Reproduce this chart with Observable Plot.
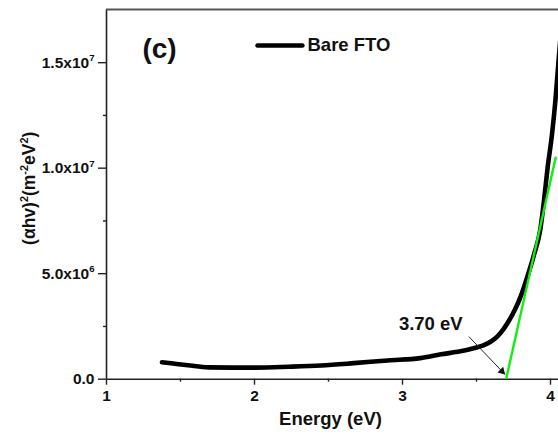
<!DOCTYPE html>
<html>
<head>
<meta charset="utf-8">
<script src="https://cdn.jsdelivr.net/npm/d3@7"></script>
<script src="https://cdn.jsdelivr.net/npm/@observablehq/plot@0.6"></script>
<style>
  html, body { margin: 0; padding: 0; background: #fff; overflow: hidden; }
  #chart svg { display: block; background: #fff; }
</style>
</head>
<body>
<div id="chart"></div>
<script>
// Tauc plot of bare FTO: (αhν)² versus photon energy
const energy = [1.375, 1.45, 1.55, 1.69, 1.85, 2.01, 2.23, 2.45, 2.67, 2.90, 3.12, 3.26, 3.39, 3.50, 3.55, 3.60, 3.64, 3.68, 3.72, 3.76, 3.80, 3.85, 3.89, 3.93, 3.955, 3.98, 4.01, 4.033, 4.05, 4.065];
const ahv2 = [8.0e5, 7.4e5, 6.6e5, 5.6e5, 5.5e5, 5.5e5, 5.9e5, 6.5e5, 7.6e5, 8.9e5, 1.0e6, 1.18e6, 1.32e6, 1.5e6, 1.62e6, 1.8e6, 2.02e6, 2.35e6, 2.78e6, 3.3e6, 3.95e6, 5.0e6, 5.94e6, 7.05e6, 8.4e6, 1.0e7, 1.16e7, 1.32e7, 1.47e7, 1.6e7];

// Linear fit of the absorption edge, extrapolated to zero
const fitEnergy = [3.70, 4.035];
const fitAhv2 = [0, 1.05e7];
const bandGapLabel = "3.70 eV";
const seriesName = "Bare FTO";
const panelLabel = "(c)";

const xTicks = [1, 2, 3, 4];
const xMinorTicks = [1.5, 2.5, 3.5];
const yTicks = [0, 5e6, 1e7, 1.5e7];
const yTickLabels = ["0.0", "5.0x10^{6}", "1.0x10^{7}", "1.5x10^{7}"];
const yMinorTicks = [2.5e6, 7.5e6, 1.25e7];

const curve = energy.map((e, i) => ({e, v: ahv2[i]}));
const fit = fitEnergy.map((e, i) => ({e, v: fitAhv2[i]}));

const xDomain = [1, 4.054];
const yDomain = [0, 1.752e7];
const font = "'Liberation Sans', Arial, sans-serif";

// annotation anchors (data units)
const arrowFrom = {e: 3.448, v: 2.02e6};
const arrowTo = {e: 3.694, v: 2.2e5};
const gapText = {e: 3.191, v: 2.62e6};
const legendSwatch = {e1: 2.02, e2: 2.324, v: 1.5815e7};
const legendText = {e: 2.358, v: 1.5815e7};
const panelText = {e: 1.358, v: 1.565e7};

const plot = Plot.plot({
  width: 558,
  height: 438,
  marginLeft: 106,
  marginRight: 0,
  marginTop: 9,
  marginBottom: 59.3,
  style: {fontFamily: font, fontWeight: "bold", color: "#111", background: "#fff"},
  x: {domain: xDomain},
  y: {domain: yDomain},
  marks: [
    // frame: left/bottom axis lines and top border
    Plot.ruleX([xDomain[0]], {stroke: "#222", strokeWidth: 1.6}),
    Plot.ruleY([0], {stroke: "#222", strokeWidth: 1.6}),
    Plot.ruleY([yDomain[1]], {stroke: "#555", strokeWidth: 2.2}),
    Plot.axisX({ticks: xTicks, tickSize: 6, tickPadding: 5, tickFormat: d => String(d), fontSize: 15.5, stroke: "#222", strokeWidth: 1.4, label: null}),
    Plot.axisX({ticks: xMinorTicks, tickSize: 3, tickFormat: () => "", stroke: "#222", strokeWidth: 1.4, label: null}),
    Plot.axisY({ticks: yTicks, tickSize: 8, tickPadding: 4, tickFormat: d => yTickLabels[yTicks.indexOf(d)], fontSize: 15.5, stroke: "#222", strokeWidth: 1.4, label: null}),
    Plot.axisY({ticks: yMinorTicks, tickSize: 3, tickFormat: () => "", stroke: "#222", strokeWidth: 1.4, label: null}),
    // axis titles
    Plot.text(["Energy (eV)"], {frameAnchor: "bottom", dy: 40, dx: -2, fontSize: 18.5, lineAnchor: "middle", fill: "#111"}),
    Plot.text(["(αhv)^{2}(m^{-2}eV^{2})"], {frameAnchor: "left", rotate: -90, dx: -77, dy: -6, fontSize: 17.5, lineAnchor: "middle", textAnchor: "middle", fill: "#111"}),
    // measured curve
    Plot.line(curve, {x: "e", y: "v", stroke: "#000", strokeWidth: 4.6, curve: "monotone-x", clip: true, strokeLinecap: "round"}),
    // linear extrapolation
    Plot.line(fit, {x: "e", y: "v", stroke: "#11ee11", strokeWidth: 2.4, clip: true}),
    // band-gap annotation
    Plot.link([0], {x1: () => arrowFrom.e, y1: () => arrowFrom.v, x2: () => arrowTo.e, y2: () => arrowTo.v, stroke: "#222", strokeWidth: 1}),
    Plot.dot([arrowTo], {x: "e", y: "v", symbol: "triangle", r: 3, rotate: 136, fill: "#111", stroke: "none", dx: -3.3, dy: -3.3}),
    Plot.text([gapText], {x: "e", y: "v", text: () => bandGapLabel, fontSize: 18.5, lineAnchor: "middle", fill: "#111"}),
    // legend and panel label
    Plot.link([0], {x1: () => legendSwatch.e1, x2: () => legendSwatch.e2, y1: () => legendSwatch.v, y2: () => legendSwatch.v, stroke: "#000", strokeWidth: 4.4, strokeLinecap: "round"}),
    Plot.text([legendText], {x: "e", y: "v", text: () => seriesName, textAnchor: "start", fontSize: 18.5, lineAnchor: "middle", fill: "#111"}),
    Plot.text([panelText], {x: "e", y: "v", text: () => panelLabel, fontSize: 28, lineAnchor: "middle", fill: "#111"})
  ]
});

document.getElementById("chart").append(plot);

// turn ^{...} into raised, smaller tspans
d3.select(plot).selectAll("text").each(function () {
  const el = this;
  const s = el.textContent;
  if (!s.includes("^{")) return;
  const base = parseFloat(getComputedStyle(el).fontSize) || 14;
  const parts = s.split(/\^\{([^}]*)\}/);
  el.textContent = "";
  let raised = false;
  parts.forEach((p, i) => {
    if (p === "") return;
    const t = d3.select(el).append("tspan").text(p);
    if (i % 2 === 1) {
      t.attr("font-size", base * 0.62).attr("dy", raised ? 0 : -base * 0.42);
      raised = true;
    } else if (raised) {
      t.attr("dy", base * 0.42);
      raised = false;
    }
  });
});
</script>
</body>
</html>
